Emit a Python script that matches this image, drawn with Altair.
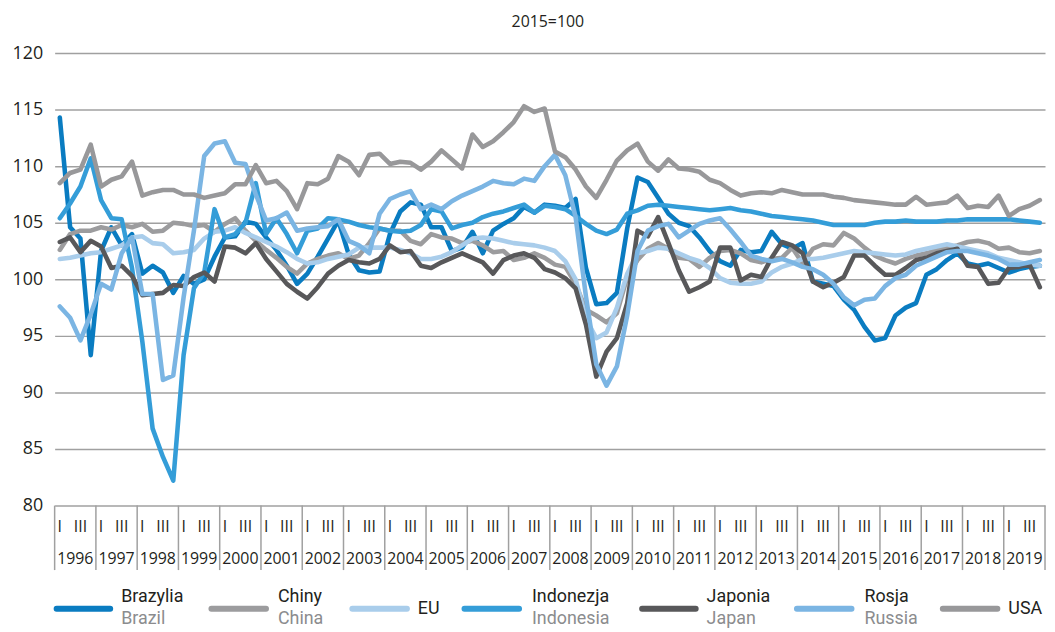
import altair as alt
import pandas as pd

years = list(range(1996, 2020))
series_pl = ["Brazylia", "Chiny", "EU", "Indonezja", "Japonia", "Rosja", "USA"]
series_en = ["Brazil", "China", "", "Indonesia", "Japan", "Russia", ""]
colors = ["#0a7cc1", "#9c9c9e", "#a9cdeb", "#349dd8", "#58585a", "#7bb5e3", "#98989a"]

brazylia = [
    114.3, 104.6, 103.6, 93.3, 102.5, 104.6, 103.0, 104.0, 100.5, 101.2, 100.6, 98.8,
    100.3, 99.6, 100.0, 102.0, 103.7, 103.8, 105.1, 104.9, 103.7, 102.6, 101.2, 99.6,
    100.5, 102.0, 103.6, 105.2, 102.2, 100.8, 100.6, 100.7, 104.0, 106.0, 106.8, 106.6,
    104.6, 104.6, 102.5, 102.8, 104.2, 102.3, 104.3, 104.9, 105.4, 106.4, 105.9, 106.6,
    106.5, 106.3, 107.1, 101.0, 97.8, 97.9, 98.8, 104.5, 109.0, 108.6, 107.2, 105.8,
    105.0, 104.7, 103.7, 102.5, 101.6, 101.2, 102.6, 102.4, 102.5, 104.2, 103.1, 102.7,
    103.2, 99.8, 99.6, 99.4, 98.2, 97.3, 95.8, 94.6, 94.8, 96.8, 97.5, 97.9,
    100.4, 100.9, 101.7, 102.3, 101.4, 101.2, 101.4, 101.0, 100.6, 100.9, 101.1, 101.2,
]
chiny = [
    102.6, 104.0, 104.3, 104.3, 104.6, 104.4, 104.8, 104.6, 104.9, 104.2, 104.3, 105.0,
    104.9, 104.7, 104.8, 104.2, 104.9, 105.4, 104.3, 103.4, 102.6, 101.9, 101.1, 100.5,
    101.4, 101.8, 102.1, 102.3, 101.8, 102.1, 103.2, 104.5, 104.3, 104.3, 103.4, 103.1,
    104.0, 103.7, 103.6, 103.2, 103.4, 103.0, 102.4, 102.5, 101.7, 101.9, 102.3, 101.9,
    101.3, 101.1, 99.6, 97.3, 96.8, 96.2, 97.0, 100.2, 101.7, 102.7, 103.2, 102.7,
    101.9, 101.8, 101.1, 101.9, 102.5, 102.6, 102.3, 101.7, 101.5, 101.8, 101.9, 102.8,
    101.4, 102.7, 103.1, 103.0, 104.1, 103.6, 102.8, 102.1, 101.7, 101.4, 101.8, 102.1,
    102.3, 102.6, 102.8, 103.0, 103.3, 103.4, 103.2, 102.7, 102.8, 102.4, 102.3, 102.5,
]
eu = [
    101.8, 101.9, 102.1, 102.3, 102.4, 102.7, 103.0, 103.7, 103.8, 103.2, 103.1, 102.3,
    102.4, 102.6, 103.6, 104.2, 104.3, 104.6, 104.1, 103.7, 103.3, 102.9, 102.4, 101.8,
    101.4, 101.5, 101.8, 102.0, 102.2, 102.8, 102.8, 102.8, 102.8, 102.6, 102.3, 101.8,
    101.8, 102.0, 102.4, 103.0, 103.6, 103.7, 103.6, 103.4, 103.2, 103.1, 103.0, 102.8,
    102.5, 101.6, 100.0, 96.5, 94.8, 95.3, 97.5, 100.5, 102.3, 102.5, 102.8, 102.7,
    102.3, 101.9, 101.6, 101.0, 100.1, 99.7, 99.6, 99.6, 99.8, 100.6, 101.1, 101.4,
    101.8, 101.8, 101.9, 102.1, 102.3, 102.5, 102.4, 102.3, 102.2, 102.1, 102.2, 102.5,
    102.7, 102.9, 103.1, 102.9, 102.7, 102.5, 102.3, 101.9, 101.7, 101.5, 101.3, 101.2,
]
indonezja = [
    105.4, 106.7, 108.2, 110.7, 107.0, 105.4, 105.3, 101.0, 94.5, 86.8, 84.3, 82.2,
    93.3, 99.2, 100.6, 106.2, 103.7, 104.0, 105.0, 108.5, 104.0, 105.4, 104.0, 102.3,
    104.3, 104.5, 105.4, 105.3, 105.1, 104.8, 104.6, 104.5, 104.3, 104.2, 104.3, 104.8,
    106.2, 106.0, 104.5, 104.8, 105.0, 105.5, 105.8, 106.0, 106.3, 106.6, 105.9, 106.5,
    106.4, 106.2, 105.6, 104.9, 104.3, 104.0, 104.4, 105.8, 106.1, 106.5, 106.6, 106.5,
    106.4, 106.3, 106.2, 106.1, 106.2, 106.3, 106.1, 106.0, 105.8, 105.6, 105.5, 105.4,
    105.3, 105.2, 105.0, 104.8, 104.8, 104.8, 104.8, 105.0, 105.1, 105.1, 105.2, 105.1,
    105.1, 105.1, 105.2, 105.2, 105.3, 105.3, 105.3, 105.3, 105.3, 105.2, 105.1, 105.0,
]
japonia = [
    103.3, 103.7, 102.4, 103.4, 102.9, 101.0, 101.2, 100.3, 98.6, 98.7, 98.8, 99.5,
    99.4, 100.2, 100.6, 99.8, 102.9, 102.8, 102.3, 103.2, 101.8, 100.7, 99.6, 98.9,
    98.3, 99.3, 100.5, 101.2, 101.7, 101.5, 101.4, 101.8, 103.0, 102.4, 102.5, 101.2,
    101.0, 101.5, 101.9, 102.3, 101.9, 101.5, 100.5, 101.7, 102.1, 102.3, 101.9, 100.9,
    100.6, 100.1, 99.2, 96.0, 91.4, 93.6, 94.8, 97.9, 104.3, 103.8, 105.5, 103.2,
    100.8, 98.9, 99.3, 99.8, 102.8, 102.8, 99.9, 100.4, 100.2, 101.9, 103.3, 103.0,
    102.3, 99.8, 99.3, 99.7, 100.2, 102.1, 102.1, 101.2, 100.4, 100.4, 101.0, 101.7,
    101.9, 102.3, 102.5, 102.7, 101.2, 101.1, 99.6, 99.7, 101.0, 101.1, 101.3, 99.3,
]
rosja = [
    97.6, 96.6, 94.6, 96.9, 99.6, 99.1, 102.3, 103.7, 98.7, 98.7, 91.1, 91.5,
    98.4, 104.3, 110.9, 112.0, 112.2, 110.3, 110.2, 107.5, 105.2, 105.4, 105.9, 104.3,
    104.5, 104.6, 104.7, 105.3, 103.4, 103.0, 102.3, 105.8, 107.1, 107.5, 107.8, 106.2,
    106.6, 106.2, 106.9, 107.4, 107.8, 108.2, 108.7, 108.5, 108.4, 108.9, 108.7, 110.0,
    111.0, 109.2, 105.5, 98.5, 92.5, 90.6, 92.3, 96.8, 102.5, 104.3, 104.7, 104.9,
    103.7, 104.3, 104.9, 105.2, 105.4, 104.4, 103.3, 102.1, 101.8, 101.6, 101.8, 101.5,
    101.1, 100.9, 100.4, 99.6, 98.4, 97.7, 98.2, 98.3, 99.4, 100.1, 100.4, 101.2,
    101.6, 102.0, 102.4, 102.5, 102.5, 102.3, 102.1, 101.8, 101.3, 101.3, 101.5, 101.7,
]
usa = [
    108.5, 109.4, 109.7, 111.9, 108.2, 108.8, 109.1, 110.4, 107.4, 107.7, 107.9, 107.9,
    107.5, 107.5, 107.2, 107.4, 107.6, 108.4, 108.4, 110.1, 108.5, 108.7, 107.8, 106.2,
    108.5, 108.4, 108.9, 110.9, 110.4, 109.2, 111.0, 111.1, 110.2, 110.4, 110.3, 109.7,
    110.4, 111.4, 110.6, 109.8, 112.8, 111.7, 112.2, 113.0, 113.9, 115.3, 114.8, 115.1,
    111.3, 110.8, 109.7, 108.2, 107.2, 108.8, 110.5, 111.4, 112.0, 110.4, 109.6, 110.6,
    109.8, 109.7, 109.5, 108.8, 108.5, 107.9, 107.4, 107.6, 107.7, 107.6, 107.9, 107.7,
    107.5, 107.5, 107.5, 107.3, 107.2, 107.0, 106.9, 106.8, 106.7, 106.6, 106.6, 107.3,
    106.6, 106.7, 106.8, 107.4, 106.3, 106.5, 106.4, 107.4, 105.6, 106.2, 106.5, 107.0,
]
all_series = [brazylia, chiny, eu, indonezja, japonia, rosja, usa]

# ---- layout (pixels) ----
W, H = 998, 456
FONT = "Open Sans"
LFONT = "Roboto"
TXT = "#231f20"
GRID = "#a0a0a0"
legend_swatch = [(2, 56), (158, 213), (300, 355), (413, 468), (592, 646), (748, 803), (895, 950)]
legend_label_x = [67, 225, 366, 481, 657, 816, 961]

xscale = alt.Scale(domain=[0, 4 * len(years)], nice=False, zero=False)
yscale = alt.Scale(domain=[80, 120], nice=False, zero=False)
yaxis = alt.Axis(values=list(range(80, 121, 5)), grid=True, gridColor=GRID, gridWidth=1.5,
                 domain=False, ticks=False, labelFontSize=18, labelColor=TXT, labelFont=FONT,
                 labelPadding=12, title=None)

layers = []
for name, vals, col in zip(series_pl, all_series, colors):
    d = pd.DataFrame({"t": [i + 0.5 for i in range(len(vals))], "v": vals})
    layers.append(
        alt.Chart(d).mark_line(color=col, strokeWidth=4.6, strokeJoin="round", strokeCap="round")
        .encode(x=alt.X("t:Q", scale=xscale, axis=None), y=alt.Y("v:Q", scale=yscale, axis=yaxis))
    )

# x axis: quarter marks, years, separators
qdf = pd.DataFrame(
    [{"t": 4 * k + 0.5, "lab": "I"} for k in range(len(years))]
    + [{"t": 4 * k + 2.5, "lab": "III"} for k in range(len(years))]
)
ydf = pd.DataFrame({"t": [4 * k + 2 for k in range(len(years))], "lab": [str(y) for y in years]})
sdf = pd.DataFrame({"t": [4 * k for k in range(len(years) + 1)]})

layers.append(alt.Chart(qdf).mark_text(font=FONT, fontSize=16, color=TXT, baseline="middle")
              .encode(x=alt.X("t:Q", scale=xscale, axis=None), y=alt.value(H + 22), text="lab:N"))
layers.append(alt.Chart(ydf).mark_text(font=FONT, fontSize=16, color=TXT, baseline="middle")
              .encode(x=alt.X("t:Q", scale=xscale, axis=None), y=alt.value(H + 54), text="lab:N"))
layers.append(alt.Chart(sdf).mark_rule(color=GRID, strokeWidth=1.5)
              .encode(x=alt.X("t:Q", scale=xscale, axis=None), y=alt.value(H), y2=alt.value(H + 65)))

# title
one = pd.DataFrame({"a": [0]})
layers.append(alt.Chart(one).mark_text(font=FONT, fontSize=16, color=TXT, baseline="middle")
              .encode(x=alt.value(W / 2 - 2), y=alt.value(-31), text=alt.value("2015=100")))

# legend
for i, (pl, en, col) in enumerate(zip(series_pl, series_en, colors)):
    x0, x1 = legend_swatch[i]
    layers.append(alt.Chart(one).mark_rule(color=col, strokeWidth=6, strokeCap="round")
                  .encode(x=alt.value(x0), x2=alt.value(x1), y=alt.value(H + 104)))
    if en:
        layers.append(alt.Chart(one).mark_text(font=LFONT, fontSize=18, color=TXT, align="left", baseline="middle")
                      .encode(x=alt.value(legend_label_x[i]), y=alt.value(H + 92), text=alt.value(pl)))
        layers.append(alt.Chart(one).mark_text(font=LFONT, fontSize=18, color="#8b8c8e", align="left", baseline="middle")
                      .encode(x=alt.value(legend_label_x[i]), y=alt.value(H + 114), text=alt.value(en)))
    else:
        layers.append(alt.Chart(one).mark_text(font=LFONT, fontSize=18, color=TXT, align="left", baseline="middle")
                      .encode(x=alt.value(legend_label_x[i]), y=alt.value(H + 104), text=alt.value(pl)))

chart = (
    alt.layer(*layers)
    .properties(width=W, height=H,
                padding={"left": 47, "top": 43, "right": 2, "bottom": 125},
                autosize=alt.AutoSizeParams(type="none"))
    .configure_view(stroke=None)
)

chart.save("out.html", embed_options={"renderer": "svg", "actions": False})
